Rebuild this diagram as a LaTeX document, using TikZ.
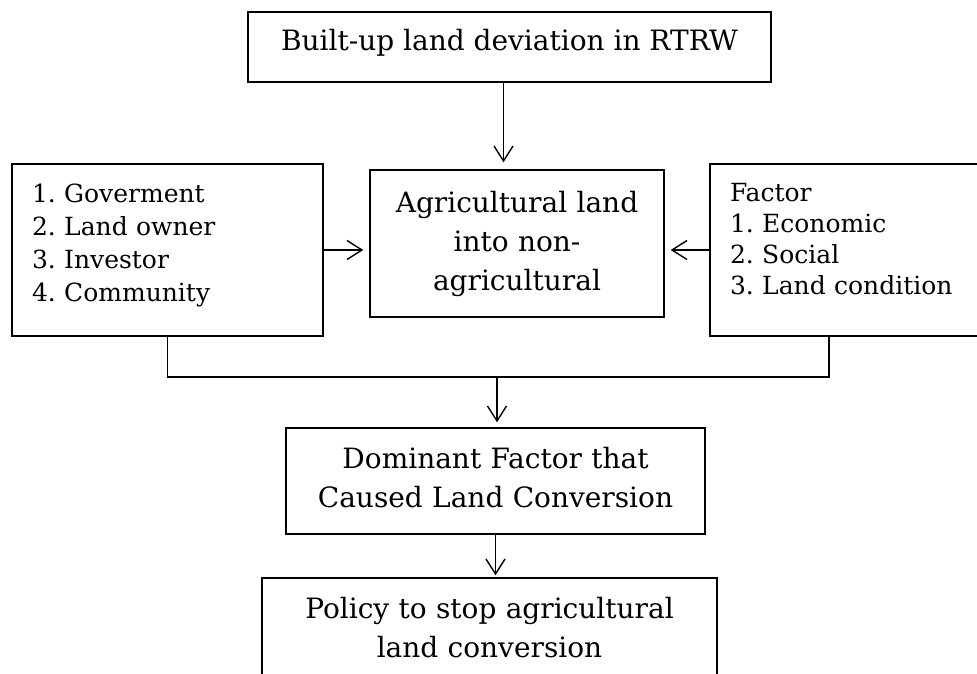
\documentclass[tikz,border=0pt]{standalone}
\usepackage{fontspec}
\setmainfont{DejaVu Serif}
\usetikzlibrary{arrows.meta}

\tikzset{
  box/.style={draw, line width=1.4pt, inner sep=0pt, font=\fontsize{28}{39}\selectfont\frenchspacing},
  listbox/.style={box, align=left, inner xsep=20pt, minimum height=172pt, font=\fontsize{25}{33}\selectfont\frenchspacing},
  arr/.style={line width=1.4pt, -{Straight Barb[length=15pt, width=19pt, line width=1.4pt]}},
}

\begin{document}
\begin{tikzpicture}[x=1pt, y=-1pt]
\useasboundingbox (0,0) rectangle (977,673);
\clip (0,0) rectangle (977,673);

\node [box, minimum width=523pt, minimum height=70pt, text height=20pt, text depth=14pt] (rtrw) at (509.5,47) {Built-up land deviation in RTRW};
\node [box, minimum width=294pt, minimum height=147pt, text width=280pt, align=center] (conv) at (517,243.5)
  {Agricultural land\\ into non-\\ agricultural};
\node [listbox, minimum width=311pt, text width=271pt, text depth=113pt] (actors) at (167.5,250)
  {1. Goverment\\ 2. Land owner\\ 3. Investor\\ 4. Community};
\node [listbox, minimum width=300pt, text width=260pt, text depth=115pt, font=\fontsize{25}{31}\selectfont\frenchspacing] (factor) at (860,250)
  {Factor\\ 1. Economic\\ 2. Social\\ 3. Land condition};
\node [box, minimum width=419pt, minimum height=106pt, text width=410pt, text depth=47pt, align=center] (dom) at (495.5,481)
  {Dominant Factor that\\ Caused Land Conversion};
\node [box, minimum width=455pt, minimum height=100pt, text width=440pt, align=center] (policy) at (489.5,628)
  {Policy to stop agricultural\\ land conversion};

%%%%%%%%%%%%%%%%%%%%%%%%%%%%%%%%%%%%%%%%

\coordinate (bus) at (497,377);
\coordinate (factorfoot) at (829,336);

\draw [arr, shorten >=7pt] ([xshift=-6pt]rtrw.south) -- ([xshift=-6pt]rtrw.south |- conv.north);
\draw [arr, shorten >=6pt] (actors.east) -- (actors.east -| conv.west);
\draw [arr, shorten >=6pt] (factor.west) -- (factor.west -| conv.east);
\draw [line width=1.4pt] (actors.south) |- (bus) -| (factorfoot);
\draw [arr, shorten >=5pt] (bus) -- (bus |- dom.north);
\draw [arr, shorten >=2pt] (dom.south) -- (dom.south |- policy.north);

\end{tikzpicture}
\end{document}
